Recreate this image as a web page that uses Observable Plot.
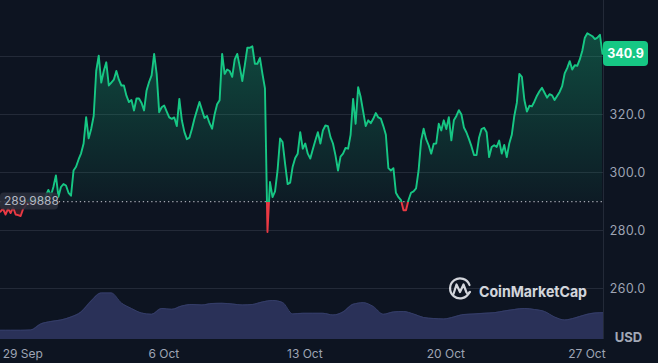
<!DOCTYPE html>
<html><head><meta charset="utf-8">
<script src="https://cdn.jsdelivr.net/npm/d3@7"></script>
<script src="https://cdn.jsdelivr.net/npm/@observablehq/plot@0.6"></script>
<style>
html,body{margin:0;padding:0;background:#0d1421;}
#chart{position:relative;width:658px;height:363px;overflow:hidden;background:#0d1421;font-family:Inter,"Noto Sans",sans-serif;}
#chart svg{position:absolute;left:0;top:0;background:transparent;}
</style></head><body><div id="chart"></div>
<script>
// ---- data ----
const priceStart = "2025-09-27T21:30:00Z";
const priceStepHours = 3;
const prices = [
286.5,287.5,285.5,287.5,286,288,285.5,285.3,285,287.5,
288.5,290.5,289,291,289.5,290.5,291.5,290,292,294,
292,295,299,291.6,295,296,295.5,293,292,300.7,
302,304.5,306.6,310,319.1,311.8,315,319.5,335,340.3,
331,335,338,330,331,332,335,332,330,330,
326.5,324.3,325,321.4,325.5,325.5,324,321.4,328.3,331.2,
333.5,340.9,334,320.8,322.5,323.1,321,319,318.5,319,
316,325.4,318,314,311.5,312,315,318.5,321.5,324.3,
321.5,318.8,319.5,317,315.1,320,323.5,324.9,340.9,334,
335.5,335,333,339,340.9,336.5,331.5,337,343,343,
343.5,337.5,337.5,339.5,334,329,279.5,296.7,291.5,293.5,
300.7,311.7,310.5,303,296,296.5,302,305,306.5,313.9,
308.2,310,306.5,304.8,308,311,313.9,310,314.5,316.2,
316,312.2,310,305.9,300.7,305.5,306.5,308.5,308.2,313,
325.4,316.8,329.4,326,321,316,318,317,318.5,320.5,
319,318.6,316,313,301.5,300.7,301.5,293,291.5,290.5,
287,287,290.5,293,293.5,294.5,300.7,311,315.1,311.5,
309.4,306.5,309.9,310,316.8,314.5,318,315,319.1,311.1,
318,319.5,321.5,320,315.5,313.8,311.5,309,306,306,
312,315,315.4,313.9,305.3,308.8,309.4,308.8,311,306.5,
309.5,305.3,310,313,319.5,324,334,333,325,321,
323,322.8,324.5,326.5,328,329.2,327.5,325.8,327,326.6,
325,326.4,327.8,329.8,334.2,336,338.4,335.5,337,336.8,
339,342,346.5,348,347.5,347,346,346.5,347.5,340.9
];
const volumeStepHours = 12; // volume in million USD
const volumes = [
46,46,46,47.5,77.5,90,97.5,112.5,137.5,192.5,
232.5,232.5,182.5,155,132.5,126,155,151,167.5,175,
172.5,180,181,177.5,172.5,175,187.5,195,185,127.5,
131,131,131,122.5,137.5,176,184,165,126,137.5,
140,127.5,110,105,102.5,112.5,125,127.5,131,134,
142.5,150,155,150,140,112.5,97.5,107.5,122.5,132.5,134
];
const openPrice = 289.9888;
const lastPriceLabel = "340.9";
const openPriceLabel = "289.9888";
const xTickDates = ["2025-09-29","2025-10-06","2025-10-13","2025-10-20","2025-10-27"];
const gridTicks = [260,280,300,320,340];
const yLabelTicks = [260,280,300,320]; // 340.0 sits under the last-price tag
const xDomain = ["2025-09-27T21:30:00Z","2025-10-27T19:44:00Z"];

// ---- build ----
const t0 = new Date(priceStart).getTime();
const priceData = prices.map((p,i)=>({date:new Date(t0+i*priceStepHours*3600e3), price:p}));
const volData = volumes.map((v,i)=>({date:new Date(t0+i*volumeStepHours*3600e3), vol:v}));
const xd = xDomain.map(d=>new Date(d));
const ticks = xTickDates.map(d=>new Date(d+"T00:00:00Z"));
const W=658,H=363, MR=55;
const GREEN="#16c784", RED="#ea3943", GRID="#232a38", TXT="#9ea4b4";
const FONT="Inter, 'Noto Sans', sans-serif";

const chart = document.getElementById("chart");

const volPlot = Plot.plot({
  width:W,height:H,marginTop:0,marginBottom:0,marginLeft:0,marginRight:MR,
  style:{background:"transparent",color:TXT,fontFamily:FONT,fontSize:"12px"},
  x:{type:"utc",domain:xd,axis:null},
  y:{domain:[0,250],range:[339,289],axis:null},
  marks:[
    Plot.areaY(volData,{x:"date",y:"vol",fill:"#2a3158",curve:"monotone-x",clip:true}),
    Plot.lineY(volData,{x:"date",y:"vol",stroke:"#343d68",strokeWidth:1,curve:"monotone-x",clip:true}),
    Plot.text(ticks,{x:d=>d,frameAnchor:"bottom",dy:-9,lineAnchor:"middle",text:d=>d3.utcFormat("%-d %b")(d),fill:TXT,fontSize:12})
  ]
});
chart.appendChild(volPlot);

const pricePlot = Plot.plot({
  width:W,height:H,marginTop:0,marginBottom:0,marginLeft:0,marginRight:MR,
  style:{background:"transparent",color:TXT,fontFamily:FONT,fontSize:"12px"},
  x:{type:"utc",domain:xd,axis:null},
  y:{domain:[260,340],range:[288,56],axis:null},
  marks:[
    Plot.gridY(gridTicks,{stroke:GRID,strokeOpacity:1,strokeWidth:1}),
    Plot.ruleX([xd[1]],{y1:340+56/2.9,y2:260-51/2.9,stroke:GRID,strokeWidth:1}),
    Plot.axisY(yLabelTicks,{anchor:"right",tickSize:0,tickPadding:6,tickFormat:d3.format(".1f"),fill:TXT,fontSize:12.5,label:null}),
    Plot.area(priceData,{x1:"date",y1:openPrice,y2:"price",fill:"url(#areaGrad)",clip:true}),
    Plot.ruleY([openPrice],{stroke:"#c9ccd4",strokeOpacity:0.8,strokeDasharray:"1.3 2.9",strokeWidth:1.3}),
    Plot.line(priceData,{x:"date",y:"price",stroke:"url(#lineGrad)",strokeWidth:1.9,strokeLinejoin:"round",clip:true}),
    Plot.text(["USD"],{frameAnchor:"bottom-right",dx:25,dy:-26,textAnchor:"middle",lineAnchor:"middle",fill:"#a2a8b7",fontWeight:"bold",fontSize:13})
  ]
});
chart.appendChild(pricePlot);

// gradients & labels using the plot's own scales
const ys = pricePlot.scale("y");
const yb = ys.apply(openPrice);
const svg = d3.select(pricePlot);
const defs = svg.insert("defs",":first-child");
const off = yb/H;
const lg = defs.append("linearGradient").attr("id","lineGrad").attr("gradientUnits","userSpaceOnUse")
  .attr("x1",0).attr("y1",0).attr("x2",0).attr("y2",H);
lg.append("stop").attr("offset",off).attr("stop-color",GREEN);
lg.append("stop").attr("offset",off).attr("stop-color",RED);
const ag = defs.append("linearGradient").attr("id","areaGrad").attr("gradientUnits","userSpaceOnUse")
  .attr("x1",0).attr("y1",0).attr("x2",0).attr("y2",H);
ag.append("stop").attr("offset",25/H).attr("stop-color",GREEN).attr("stop-opacity",0.32);
ag.append("stop").attr("offset",off).attr("stop-color",GREEN).attr("stop-opacity",0.04);
ag.append("stop").attr("offset",off).attr("stop-color",RED).attr("stop-opacity",0.12);
ag.append("stop").attr("offset",240/H).attr("stop-color",RED).attr("stop-opacity",0.35);

// open price label
const g1 = svg.append("g").attr("text-anchor","start");
g1.append("rect").attr("x",0).attr("y",yb-8.5).attr("width",58).attr("height",17).attr("rx",4)
  .attr("fill","#2a2f3b").attr("fill-opacity",0.88);
g1.append("text").attr("x",4).attr("y",yb).attr("dy","0.35em").attr("text-anchor","start").attr("fill","#b4b8c3")
  .attr("font-size",12).attr("font-family",FONT).text(openPriceLabel);

// last price label
const xs = pricePlot.scale("x");
const yl = ys.apply(+lastPriceLabel);
const xr = xs.apply(xd[1]);
const g2 = svg.append("g");
g2.append("rect").attr("x",xr).attr("y",yl-12.5).attr("width",45).attr("height",25).attr("rx",4).attr("fill",GREEN);
g2.append("text").attr("x",xr+22.5).attr("y",yl).attr("dy","0.35em").attr("text-anchor","middle")
  .attr("fill","#ffffff").attr("font-weight","bold").attr("font-size",12.5)
  .attr("font-family",FONT).text(lastPriceLabel);

// watermark
const wm = svg.append("g").attr("opacity",0.9);
wm.append("path").attr("d","M469.2,292.5 A10,10 0 1 1 469.5,285")
  .attr("fill","none").attr("stroke","#e8eaf0").attr("stroke-width",2.2).attr("stroke-linecap","round");
wm.append("path").attr("d","M453.5,294 L456.5,284.5 L460,292 L463.5,284.5 L466.5,292.5 Q468,295 470,292")
  .attr("fill","none").attr("stroke","#e8eaf0").attr("stroke-width",2.2).attr("stroke-linejoin","round").attr("stroke-linecap","round");
wm.append("text").attr("x",479).attr("y",297).attr("text-anchor","start").attr("fill","#e8eaf0").attr("font-weight","bold")
  .attr("font-size",15).attr("textLength",108).attr("lengthAdjust","spacingAndGlyphs")
  .attr("font-family",FONT).text("CoinMarketCap");
</script></body></html>
